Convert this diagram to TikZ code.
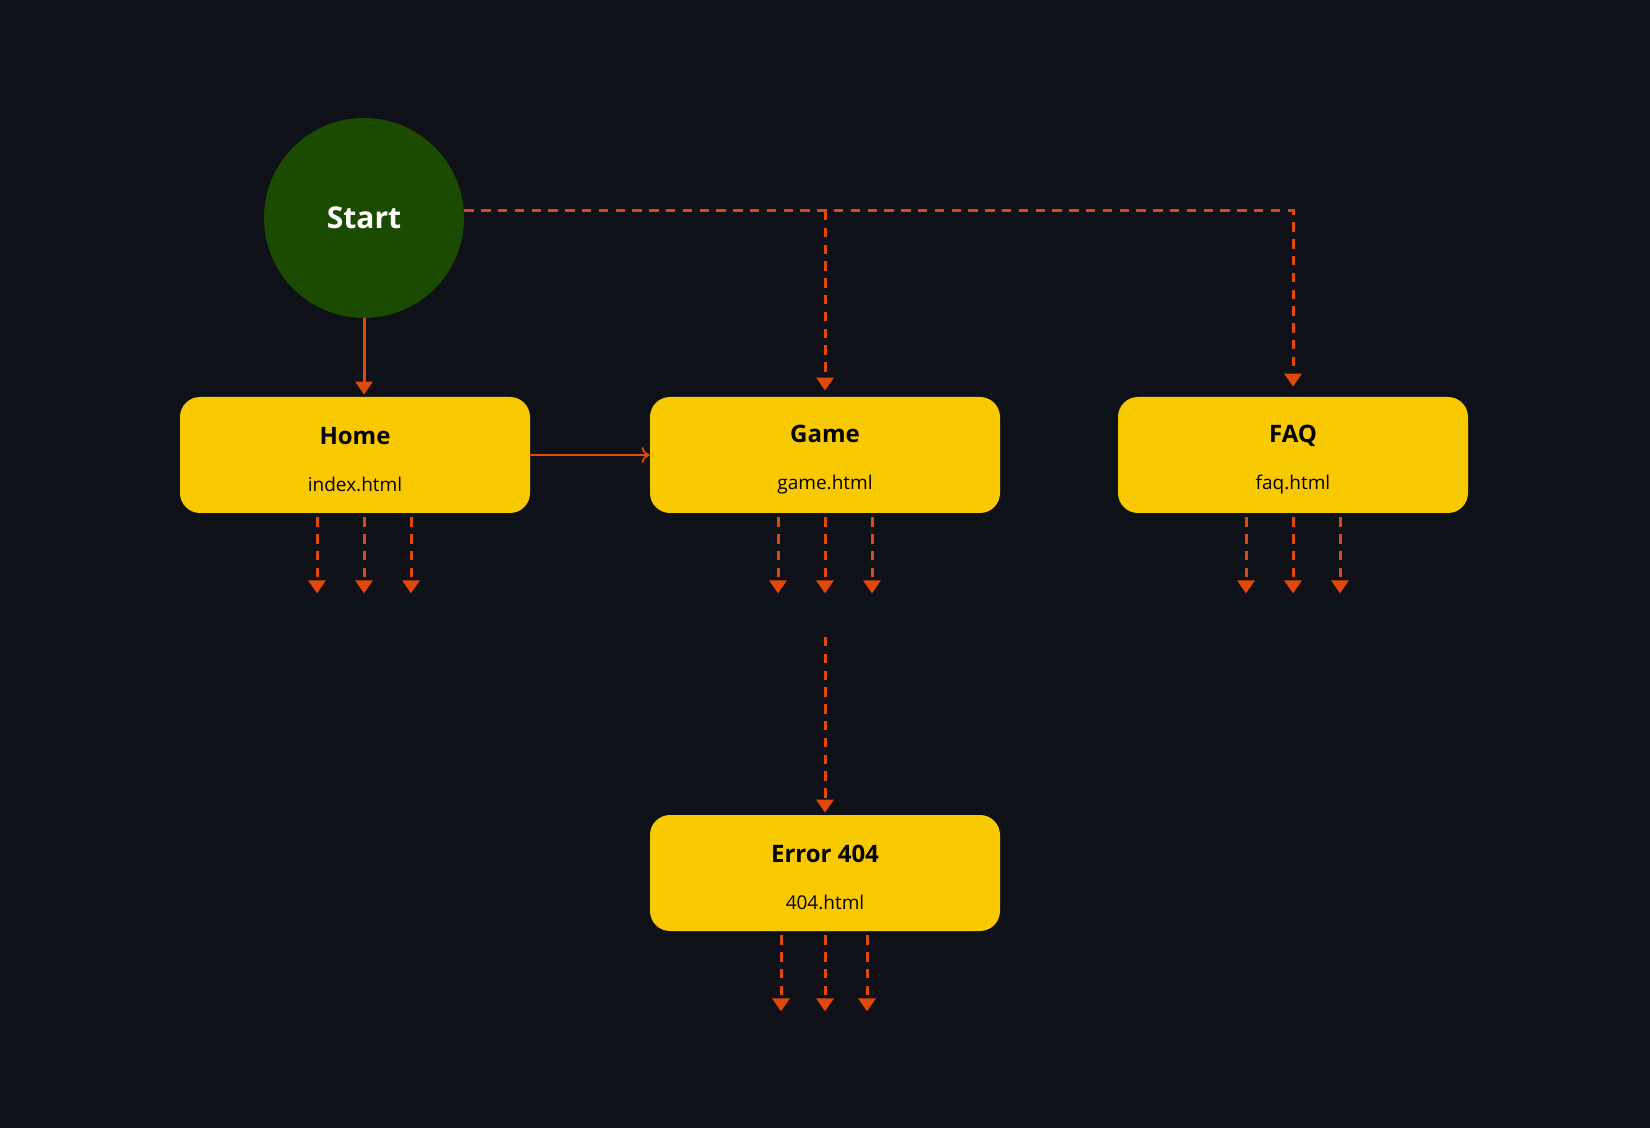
\documentclass[tikz,border=0pt]{standalone}
\usepackage{fontspec}
\setmainfont{Open Sans}
\usepackage{tikz}
\usetikzlibrary{arrows.meta,positioning}
\definecolor{bgdark}{HTML}{0E1117}
\definecolor{startgreen}{HTML}{1A4B00}
\definecolor{pageyellow}{HTML}{F9C900}
\definecolor{linkred}{HTML}{E2480A}
\tikzset{
 startnode/.style
  = {circle, fill=startgreen, minimum size=100pt, inner sep=0pt,
     text=white, font=\fontsize{15}{18}\selectfont\bfseries},
 page/.style
  = {rectangle, fill=pageyellow, rounded corners=10pt, minimum width=175pt,
     minimum height=58pt, align=center, text=black,
     font=\fontsize{9.5}{12}\selectfont},
 link/.style
  = {draw=linkred, line width=1.5pt, -{Triangle[width=8.5pt,length=6.5pt]}},
 maybe/.style
  = {link, dash pattern=on 4.7pt off 3.7pt},
 jump/.style
  = {draw=linkred, line width=0.9pt, -{To[length=4pt,width=8pt]}},
}
\newcommand{\pagetext}[2]{\rule{0pt}{13.3pt}{\fontsize{12}{14}\selectfont\bfseries #1}\\[11.7pt]#2}

\begin{document}
\begin{tikzpicture}[x=0.5pt, y=-0.5pt]

% Background
\fill[bgdark] (0,0) rectangle (1650,1128);

% Start
\node[startnode] (start) at (364,218) {Start};

% Pages
\node[page] (home) at (355,455) {\pagetext{Home}{index.html}};
\node[page] (game) at (825,455) {\pagetext{Game}{game.html}};
\node[page] (faq) at (1293,455) {\pagetext{FAQ}{faq.html}};
\node[page] (error) at (825,873) {\pagetext{Error 404}{404.html}};

% Links from start
\draw[link, shorten >=1pt] (start.south) -- (start.south |- home.north);
\draw[maybe, shorten >=5pt] ([yshift=3.5pt]start.east) -| (faq.north);
\draw[maybe, shorten >=3pt] ([yshift=3.5pt]game.north |- start.east) -- (game.north);
\draw[jump] (home.east) -- (game.west);

% Link into error page
\coordinate (errin) at (825,637);
\draw[maybe, shorten >=1pt] (errin) -- (error.north);

% Outgoing links
\foreach \n/\o in {home/9, game/0, faq/0}
  \foreach \d in {-47,0,47}
    \draw[maybe] ([xshift=\o*0.5pt+\d*0.5pt, yshift=-2pt]\n.south) -- ++(0,76);
\foreach \d in {-44,0,42}
  \draw[maybe] ([xshift=\d*0.5pt, yshift=-2pt]error.south) -- ++(0,76);

\end{tikzpicture}
\end{document}
